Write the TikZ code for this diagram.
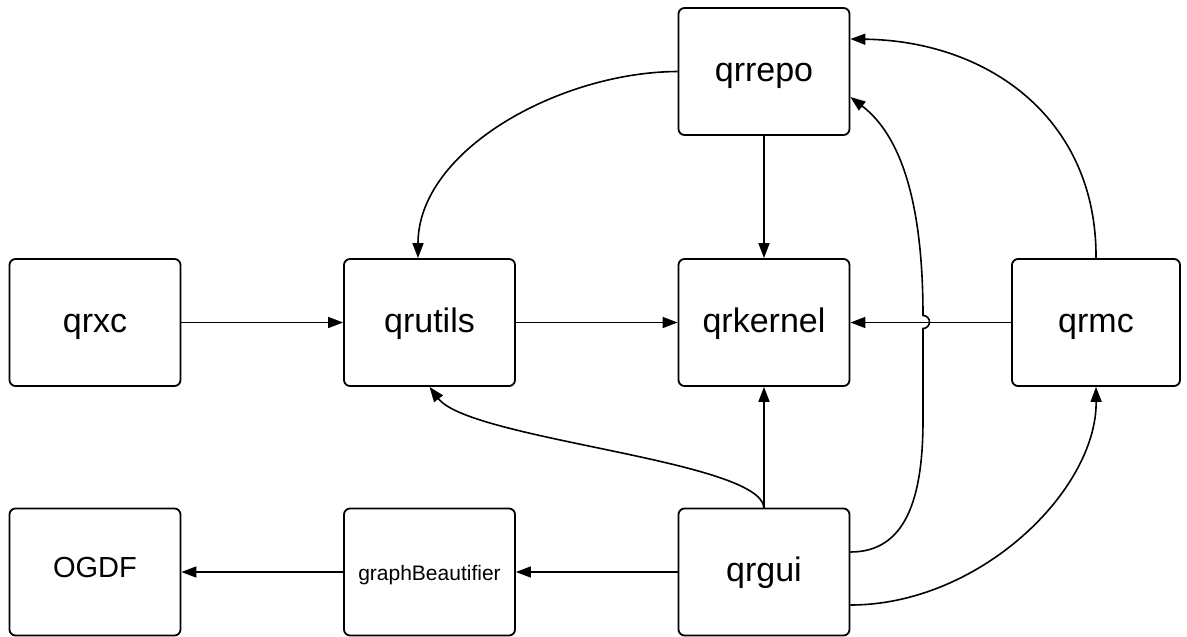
\documentclass[tikz,border=0pt]{standalone}
\usepackage{fontspec}
\setmainfont{Liberation Sans}
\usetikzlibrary{arrows.meta}
\begin{document}
\begin{tikzpicture}[x=1pt,y=-1pt,
  box/.style={draw, line width=1.8pt, rounded corners=6pt, minimum width=171pt, minimum height=127pt, inner sep=0pt, text height=24pt, text depth=5pt, font=\fontsize{34}{40}\selectfont},
  arr/.style={line width=1.6pt, -{Triangle[length=15pt,width=11pt]}}]
\useasboundingbox (0,0) rectangle (1187,637);
\node[box] (qrrepo) at (764,71.5) {qrrepo};
\node[box] (qrxc) at (95,322.5) {qrxc};
\node[box] (qrutils) at (429.5,322.5) {qrutils};
\node[box] (qrkernel) at (764,322.5) {qrkernel};
\node[box, minimum width=168pt] (qrmc) at (1096,322.5) {qrmc};
\node[box, font=\fontsize{29}{35}\selectfont, text height=20pt, text depth=9pt] (ogdf) at (95,572) {OGDF};
\node[box, font=\fontsize{21}{26}\selectfont, text height=18pt, text depth=2pt] (gb) at (429.5,572) {graphBeautifier};
\node[box] (qrgui) at (764,572) {qrgui};
% edges
\draw[arr] (qrrepo.west) .. controls (560,72) and (418,150) .. ([xshift=-11.5pt]qrutils.north);
\draw[arr] (qrrepo.south) -- (qrkernel.north);
\draw[arr] (qrxc.east) -- (qrutils.west);
\draw[arr] (qrutils.east) -- (qrkernel.west);
\draw[arr] (qrmc.west) -- (qrkernel.east);
\draw[arr] (qrmc.north) .. controls (1097,120) and (990,41) .. ([yshift=32.5pt]qrrepo.east);
\draw[arr] ([yshift=20pt]qrgui.east) .. controls (905,552) and (923,500) .. (923,420) -- (923,328.5) arc[start angle=90, end angle=-90, radius=6.5] -- (923,316) .. controls (923,200) and (900,135) .. ([yshift=-25.5pt]qrrepo.east);
\draw[arr] ([yshift=-33pt]qrgui.east) .. controls (980,605) and (1097,490) .. (qrmc.south);
\draw[arr] (qrgui.north) -- (qrkernel.south);
\draw[arr] (qrgui.north) .. controls (760,460) and (470,440) .. (qrutils.south);
\draw[arr] (qrgui.west) -- (gb.east);
\draw[arr] (gb.west) -- (ogdf.east);
\end{tikzpicture}
\end{document}
